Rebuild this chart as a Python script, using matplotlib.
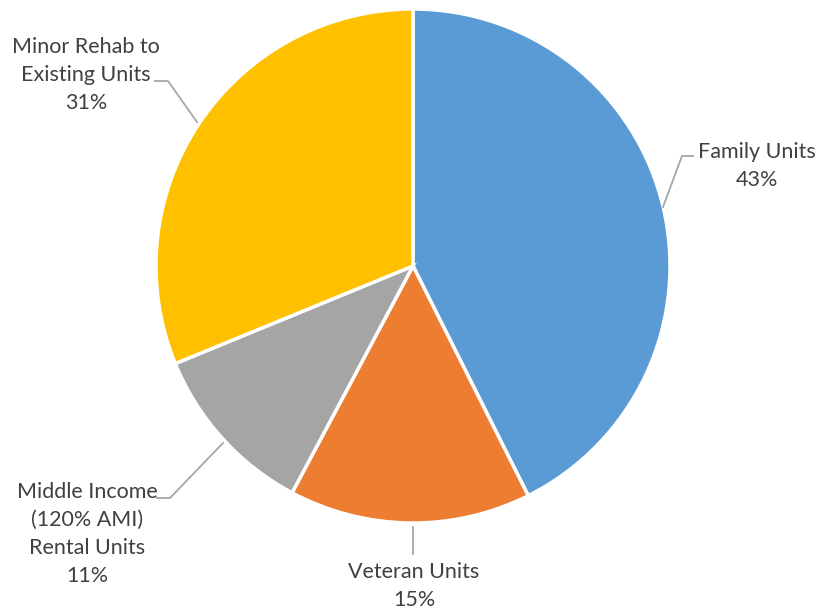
import matplotlib
matplotlib.use("Agg")
import matplotlib.pyplot as plt

categories = ["Family Units", "Veteran Units", "Middle Income\n(120% AMI)\nRental Units", "Minor Rehab to\nExisting Units"]
values = [42.6, 15.2, 11.0, 31.2]
colors = ["#5B9BD5", "#ED7D31", "#A5A5A5", "#FFC000"]

W, H = 820, 610
fig = plt.figure(figsize=(8.2, 6.1), dpi=100)
ax = fig.add_axes([0, 0, 1, 1])

cx, cy, r = 413, H - 266, 257
ax.pie(values, colors=colors, startangle=90, counterclock=False,
       center=(cx, cy), radius=r, frame=True,
       wedgeprops=dict(edgecolor="white", linewidth=2.5))
ax.set_xlim(0, W)
ax.set_ylim(0, H)
ax.set_aspect("equal")
ax.axis("off")

txt = dict(fontsize=15.5, color="#404040", family=["Lato", "DejaVu Sans"],
           ha="center", va="center", linespacing=1.5)
lc = "#A6A6A6"

def P(x, y):
    return x, H - y

def pct(v):
    return f"{v:.0f}%"

# Family Units
ax.text(*P(757, 166), f"{categories[0]}\n{pct(values[0])}", **txt)
xs, ys = zip(P(663, 207), P(682, 156), P(693, 156))
ax.plot(xs, ys, color=lc, lw=1.3)

# Veteran Units
ax.text(*P(414, 586), f"{categories[1]}\n{pct(values[1])}", **txt)
xs, ys = zip(P(413, 527), P(413, 554))
ax.plot(xs, ys, color=lc, lw=1.3)

# Middle Income
ax.text(*P(87, 533.5), f"{categories[2]}\n{pct(values[2])}", **txt)
xs, ys = zip(P(157, 498), P(170, 498), P(223, 443))
ax.plot(xs, ys, color=lc, lw=1.3)

# Minor Rehab
ax.text(*P(86, 75), f"{categories[3]}\n{pct(values[3])}", **txt)
xs, ys = zip(P(155, 81), P(168, 81), P(197, 122))
ax.plot(xs, ys, color=lc, lw=1.3)

fig.savefig("out.png", dpi=100)
